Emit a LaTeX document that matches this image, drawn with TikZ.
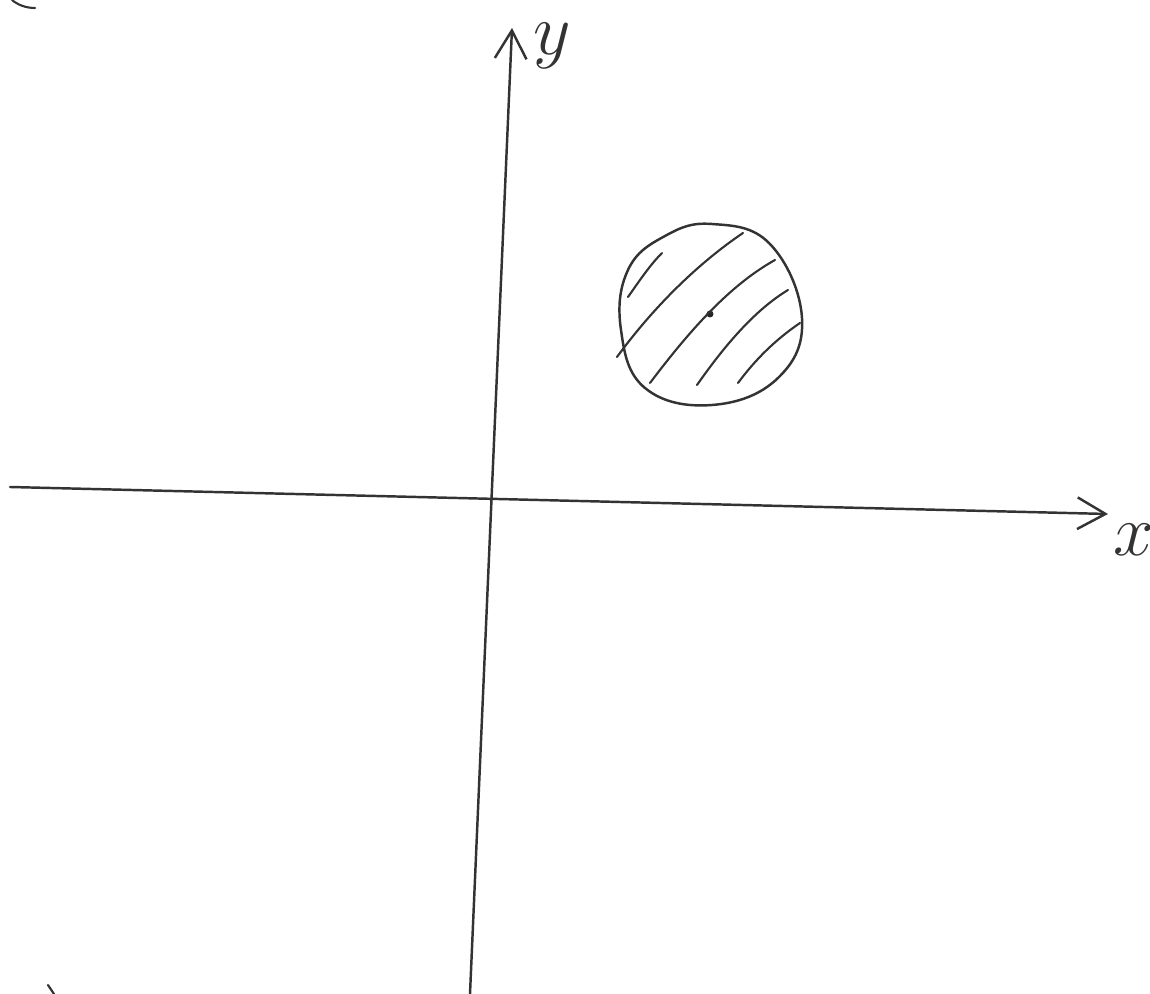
\documentclass[tikz,border=0pt]{standalone}
\usetikzlibrary{arrows.meta}
\begin{document}
\begin{tikzpicture}[x=0.01cm,y=-0.01cm,
  pen/.style={draw=black!80,line width=0.7pt,line cap=round,line join=round},
  hatch/.style={draw=black!80,line width=0.6pt,line cap=round},
  lbl/.style={text=black!80,font=\fontsize{20}{22}\selectfont,inner sep=1pt}]
\useasboundingbox (0,0) rectangle (1150,994);
% axes
\coordinate (xs) at (10,487);
\coordinate (xe) at (1108,514);
\coordinate (ys) at (470,994);
\coordinate (ye) at (512,28);
\draw[pen,-{Straight Barb[length=8pt,width=9pt]}] (xs) -- (xe);
\draw[pen,-{Straight Barb[length=8pt,width=9pt]}] (ys) -- (ye);
\node[lbl] (ylab) at (552,46) {$y$};
\node[lbl] (xlab) at (1134,540) {$x$};
% disk
\coordinate (c) at (710,314);
\draw[pen] plot[smooth cycle,tension=0.7] coordinates {
  (712,224) (770,244) (802,318) (778,378) (712,405) (645,388) (621,330) (628,270) (665,236)};
\fill[black!85] (c) circle (3.5);
% hatching
\draw[hatch] (628,297) .. controls (640,280) and (650,265) .. (662,253);
\draw[hatch] (617,357) .. controls (655,305) and (700,262) .. (743,233);
\draw[hatch] (650,383) .. controls (690,330) and (730,285) .. (775,260);
\draw[hatch] (697,385) .. controls (725,345) and (755,310) .. (788,290);
\draw[hatch] (738,383) .. controls (755,360) and (775,340) .. (800,323);
% stray marks at edges
\draw[hatch] (12,0) .. controls (18,5) and (26,8) .. (35,8);
\draw[hatch] (48,985) -- (54,994);
\end{tikzpicture}
\end{document}
